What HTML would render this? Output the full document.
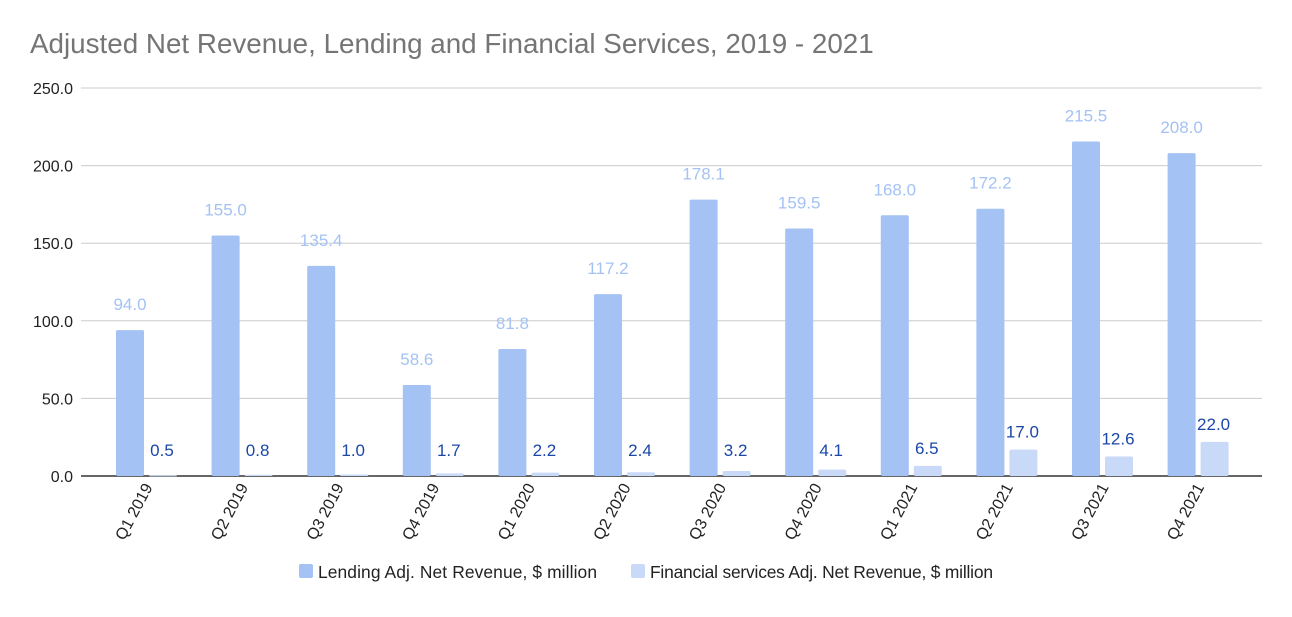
<!DOCTYPE html>
<html><head><meta charset="utf-8"><style>
body{margin:0;background:#fff;font-family:"Liberation Sans",Arial,sans-serif}
</style></head><body>
<svg width="1292" height="612" xmlns="http://www.w3.org/2000/svg" id="chart">
<text x="30" y="53" font-size="27.8" fill="#757575">Adjusted Net Revenue, Lending and Financial Services, 2019 - 2021</text>
<g id="grid"></g><g id="bars"></g><g id="labels"></g>
<g>
<rect x="299" y="564" width="14" height="14" rx="2" fill="#a4c2f4"/>
<text x="318" y="578" font-size="17.4" fill="#222" textLength="279">Lending Adj. Net Revenue, $ million</text>
<rect x="631" y="564" width="14" height="14" rx="2" fill="#c9daf8"/>
<text x="650" y="578" font-size="17.4" fill="#222" textLength="343">Financial services Adj. Net Revenue, $ million</text>
</g>
</svg>
<script>
const categories=["Q1 2019","Q2 2019","Q3 2019","Q4 2019","Q1 2020","Q2 2020","Q3 2020","Q4 2020","Q1 2021","Q2 2021","Q3 2021","Q4 2021"];
const lending=[94.0,155.0,135.4,58.6,81.8,117.2,178.1,159.5,168.0,172.2,215.5,208.0];
const financial=[0.5,0.8,1.0,1.7,2.2,2.4,3.2,4.1,6.5,17.0,12.6,22.0];
const ticks=[0,50,100,150,200,250];
const NS="http://www.w3.org/2000/svg";
const y0=476,pxPer=388/250;
function y(v){return y0-v*pxPer;}
function x(i){return 116+i*95.6;}
function mk(tag,attrs,parent){const e=document.createElementNS(NS,tag);for(const k in attrs)e.setAttribute(k,attrs[k]);document.getElementById(parent).appendChild(e);return e;}
ticks.forEach(t=>{
 const l=mk('line',{x1:81,x2:1262,y1:y(t),y2:y(t),stroke:t===0?'#333':'#ccc','stroke-width':t===0?1.5:1},'grid');
 
 
 const tx=mk('text',{x:73,y:y(t)+6,'text-anchor':'end','font-size':16,fill:'#222'},'grid');
 tx.textContent=t.toFixed(1);
 
 
});
categories.forEach((c,i)=>{
 const b=mk('rect',{x:x(i),y:y(lending[i]),width:28,height:lending[i]*pxPer,fill:'#a4c2f4',rx:1.5},'bars');
 
 
 const f=mk('rect',{x:x(i)+33,y:y(financial[i]),width:28,height:Math.max(financial[i]*pxPer,1),fill:'#c9daf8',rx:1.5},'bars');
 
 
 const t1=mk('text',{x:x(i)+14,y:y(lending[i])-20,'text-anchor':'middle','font-size':17,fill:'#a4c2f4'},'labels');
 t1.textContent=lending[i].toFixed(1);
 
 
 const t2=mk('text',{x:x(i)+46,y:Math.min(y(financial[i])-12,456),'text-anchor':'middle','font-size':17,fill:'#1a47a8'},'labels');
 t2.textContent=financial[i].toFixed(1);
 
 
 const cx=x(i)+37,cy=487;
 const ct=mk('text',{x:cx,y:cy,'text-anchor':'end','font-size':16,fill:'#222',transform:`rotate(-62 ${cx} ${cy})`},'labels');
 ct.textContent=c;
 
 
});
</script>
</body></html>
